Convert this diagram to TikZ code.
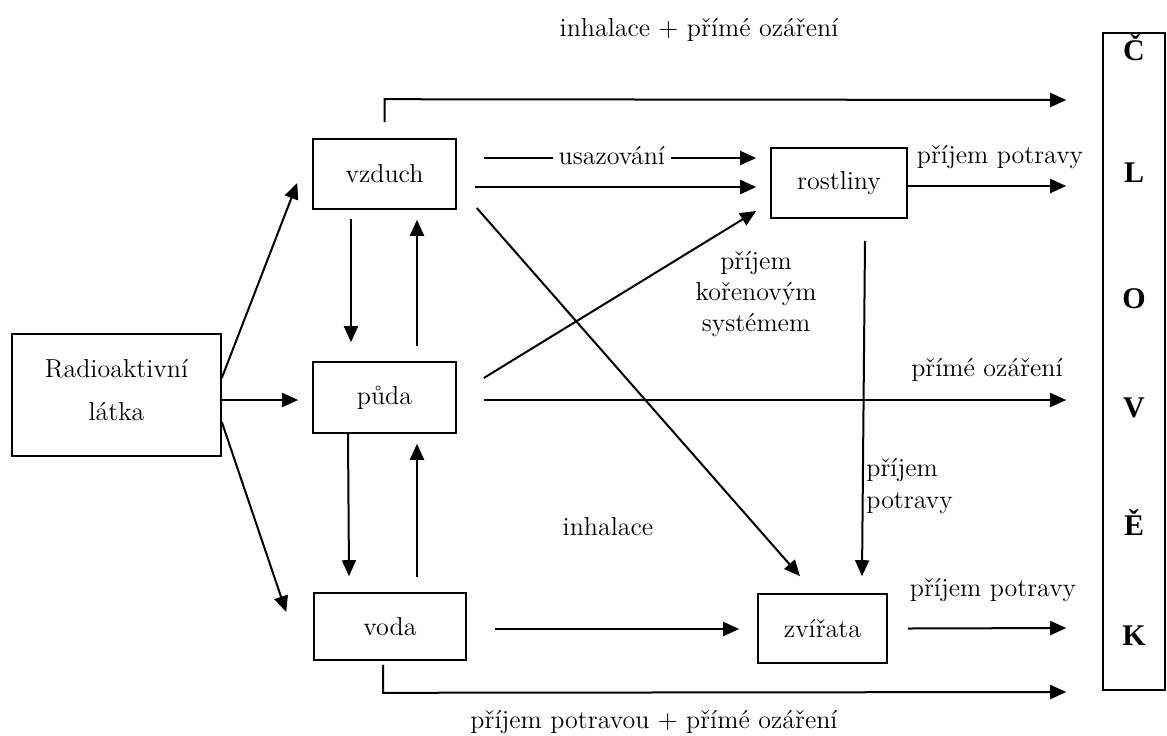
\documentclass[tikz,border=0pt,12pt]{standalone}
\usepackage{fontspec}
\newfontfamily\tmsfont{Liberation Serif}
\usetikzlibrary{arrows.meta,calc}
\begin{document}
\begin{tikzpicture}[x=0.5pt,y=-0.5pt,
  font=\fontsize{13}{15.5}\selectfont,
  box/.style={draw, line width=0.8pt, inner sep=0pt, align=center},
  arr/.style={-{Triangle[length=8pt,width=7pt]}, line width=1pt},
  lbl/.style={inner sep=0pt, align=center, font=\fontsize{13}{15.7}\selectfont},
  letter/.style={inner sep=0pt, anchor=base, font=\tmsfont\bfseries\fontsize{15}{18}\selectfont}]
\useasboundingbox (0,0) rectangle (1167,735);
% boxes
\node[box, minimum width=104.5pt, minimum height=61pt] (rad) at (116.5,395) {};
\node[lbl, font=\fontsize{13}{21.5}\selectfont] (radtxt) at (116.5,390) {Radioaktivní\\látka};
\node[box, minimum width=71.5pt, minimum height=35pt] (vzduch) at (384.5,174) {vzduch};
\node[box, minimum width=71.5pt, minimum height=35.5pt] (puda) at (384.5,397.5) {půda};
\node[box, minimum width=76pt, minimum height=33.5pt] (voda) at (390,626.5) {voda};
\node[box, minimum width=68pt, minimum height=35pt] (rostliny) at (839,183) {rostliny};
\node[box, minimum width=64.5pt, minimum height=34.5pt] (zvirata) at (822.5,628.5) {zvířata};
\node[box, minimum width=31pt, minimum height=328.5pt] (clovek) at (1134,361.5) {};
% letters of CLOVEK
\node[letter] (l1) at (1134,60) {Č};
\node[letter] (l2) at (1134,182) {L};
\node[letter] (l3) at (1134,308) {O};
\node[letter] (l4) at (1134,417) {V};
\node[letter] (l5) at (1134,535) {Ě};
\node[letter] (l6) at (1134,645) {K};
% arrows from radioactive source
\draw[arr] ($(rad.east)+(0,-17)$) -- ($(vzduch.west)+(-15,9)$);
\draw[arr] ($(rad.east)+(0,5)$) -- ($(puda.west)+(-14,2.5)$);
\draw[arr] ($(rad.east)+(0,27)$) -- ($(voda.west)+(-27,-14.5)$);
% vertical exchanges
\draw[arr] ($(vzduch.south)+(-33.5,9)$) -- ($(puda.north)+(-33.5,-19)$);
\draw[arr] ($(puda.north)+(32.5,-15)$) -- ($(vzduch.south)+(32.5,10)$);
\draw[arr] ($(puda.south)+(-36.5,0)$) -- ($(voda.north)+(-41,-16)$);
\draw[arr] ($(voda.north)+(27,-15)$) -- ($(puda.south)+(32.5,10)$);
% top line: inhalace + prime ozareni
\draw[arr] ($(vzduch.north)+(0,-16)$) -- ++(0,-23) -- ($(clovek.west)+(-36,-261.5)$);
\node[lbl] (t1) at (699,30) {inhalace + přímé ozáření};
% vzduch -> rostliny
\draw[arr] ($(vzduch.east)+(27,-16)$) -- node[pos=0.47, fill=white, inner sep=3pt, yshift=1pt] (usaz) {usazování} ($(rostliny.west)+(-14,-25)$);
\draw[arr] ($(vzduch.east)+(18,13)$) -- ($(rostliny.west)+(-14,4)$);
% puda -> rostliny
\draw[arr] ($(puda.east)+(27,-19.5)$) -- ($(rostliny.west)+(-14,28)$);
\node[lbl] (kor) at (756,294) {příjem\\kořenovým\\systémem};
% vzduch -> zvirata
\draw[arr] ($(vzduch.east)+(20,34)$) -- ($(zvirata.north)+(-22.5,-17)$);
\node[lbl] (inh) at (608,527) {inhalace};
% rostliny -> zvirata
\draw[arr] ($(rostliny.south)+(26,22)$) -- ($(zvirata.north)+(39.5,-17)$);
\node[lbl, align=left, anchor=west] (pp1) at (866,486) {příjem\\potravy};
% rostliny -> clovek
\draw[arr] ($(rostliny.east)+(0,3)$) -- ($(clovek.west)+(-36,-175.5)$);
\node[lbl] (pp2) at (1000,157) {příjem potravy};
% puda -> clovek
\draw[arr] ($(puda.east)+(27,2.5)$) -- ($(clovek.west)+(-36,38.5)$);
\node[lbl] (po) at (987,370) {přímé ozáření};
% voda -> zvirata
\draw[arr] ($(voda.east)+(28,2.5)$) -- ($(zvirata.west)+(-18,0.5)$);
% zvirata -> clovek
\draw[arr] ($(zvirata.east)+(20,0)$) -- ($(clovek.west)+(-36,266.5)$);
\node[lbl] (pp3) at (993,590) {příjem potravy};
% bottom line
\draw[arr] ($(voda.south)+(-7,4)$) -- ++(0,28) -- ($(clovek.west)+(-36,330.5)$);
\node[lbl] (t2) at (654,722) {příjem potravou + přímé ozáření};
\end{tikzpicture}
\end{document}
